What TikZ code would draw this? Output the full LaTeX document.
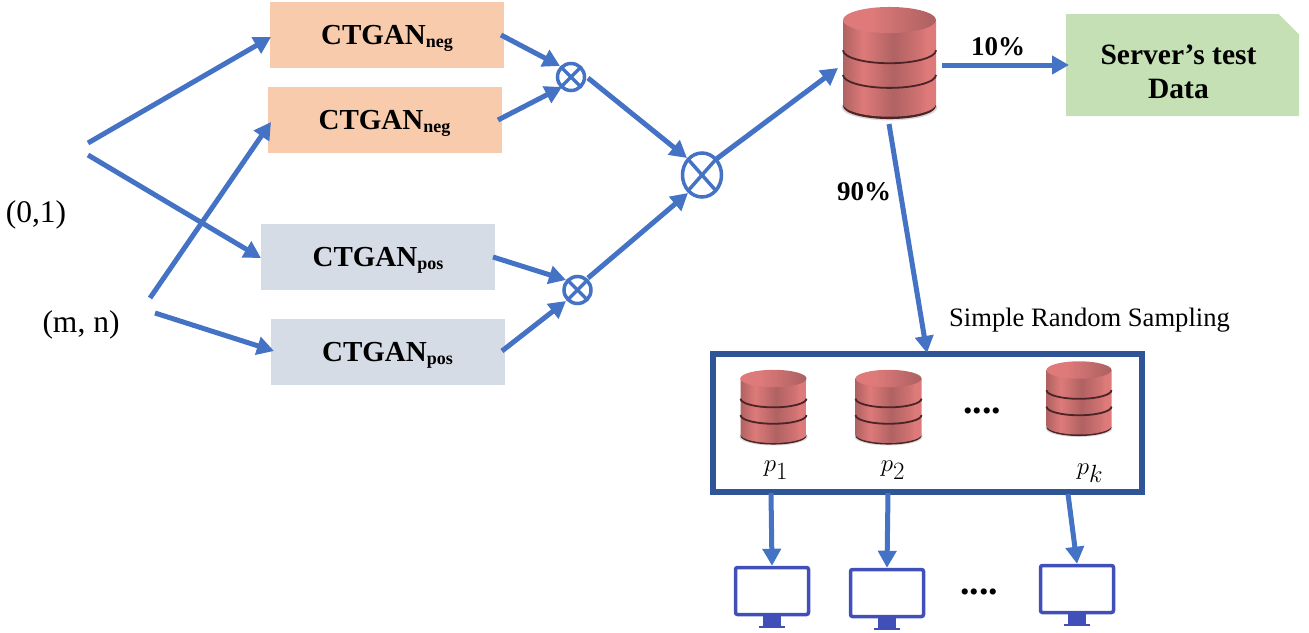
\documentclass[tikz,border=0pt]{standalone}
\usepackage{fontspec}
\setmainfont{Liberation Serif}
\usetikzlibrary{arrows.meta,shapes.geometric,shapes.misc}

\definecolor{flowblue}{HTML}{4472C4}
\definecolor{framblue}{HTML}{2F5597}
\definecolor{pcblue}{HTML}{4050B8}
\definecolor{negfill}{HTML}{F8CBAD}
\definecolor{posfill}{HTML}{D6DCE5}
\definecolor{testfill}{HTML}{C5E0B4}
\definecolor{dbhi}{HTML}{DE7A7A}
\definecolor{dbmid}{HTML}{D07272}
\definecolor{dblow}{HTML}{B06262}
\definecolor{dbdark}{HTML}{985656}
\definecolor{dbline}{HTML}{4A2426}

\pgfdeclarehorizontalshading{dbside}{100bp}{color(0bp)=(dblow); color(25bp)=(dblow);
  color(36bp)=(dbhi); color(52bp)=(dblow); color(66bp)=(dbmid); color(70bp)=(dbhi); color(75bp)=(dbhi); color(100bp)=(dbdark)}
\pgfdeclarehorizontalshading{dbtop}{100bp}{color(0bp)=(dbhi); color(40bp)=(dbhi); color(72bp)=(dblow); color(100bp)=(dbdark)}

\newcommand{\ctgan}[1]{CTGAN\raisebox{-.25ex}{\fontsize{18}{18}\selectfont #1}}

\tikzset{
  flow/.style={draw=flowblue,line width=5pt,-{Triangle[length=17pt,width=18pt]}},
  genbox/.style={minimum width=234pt,minimum height=66pt,inner sep=0pt,text height=27pt,text depth=9pt,
    font=\fontsize{29}{34}\selectfont\bfseries},
  mixer/.style={draw=flowblue,line width=3.5pt,inner sep=0pt,path picture={
    \draw[flowblue,line width=3.5pt] (path picture bounding box.north west)--(path picture bounding box.south east);
    \draw[flowblue,line width=3.5pt] (path picture bounding box.north east)--(path picture bounding box.south west);}},
  screen/.style={draw=pcblue,line width=3.5pt,rounded corners=2pt,minimum width=73pt,minimum height=47pt,inner sep=0pt},
  plain/.style={font=\fontsize{31.5}{36}\selectfont,inner sep=0pt},
  pct/.style={font=\fontsize{27}{32}\selectfont\bfseries,inner sep=0pt},
  dotrow/.style={font=\fontsize{38}{38}\selectfont\bfseries,inner sep=0pt,anchor=base},
  plab/.style={font=\fontsize{33}{38}\selectfont,inner sep=0pt},
  pics/dbcyl/.style={code={
    \fill[black!30,opacity=.5] (0,-1.88) ellipse [x radius=1.03,y radius=.28];
    \fill[dbline] (0,-1.85) ellipse [x radius=1,y radius=.28];
    \shade[shading=dbside] (-1,0)--(-1,-1.80) arc [start angle=180,end angle=360,x radius=1,y radius=.28]--(1,0)--cycle;
    \shade[shading=dbtop] (0,0) ellipse [x radius=1,y radius=.28];
    \draw[dbline,line width=1.8pt] (-1,-.65) arc [start angle=180,end angle=360,x radius=1,y radius=.28];
    \draw[dbline,line width=1.8pt] (-1,-1.18) arc [start angle=180,end angle=360,x radius=1,y radius=.28];
  }}
}

\begin{document}
\begin{tikzpicture}[x=1pt,y=1pt]
\useasboundingbox (0,0) rectangle (1309,-632);

% generators
\node[genbox,fill=negfill] (neg1) at (387,-35) {\ctgan{neg}};
\node[genbox,fill=negfill] (neg2) at (384.5,-120) {\ctgan{neg}};
\node[genbox,fill=posfill] (pos1) at (378,-257) {\ctgan{pos}};
\node[genbox,fill=posfill] (pos2) at (387.5,-352) {\ctgan{pos}};

% inputs
\node[plain] (range) at (36,-215) {(0,1)};
\node[plain] (size) at (81,-325) {(m, n)};

% mixers
\node[mixer,circle,minimum size=27pt] (mix1) at (571,-77) {};
\node[mixer,circle,minimum size=27pt] (mix2) at (577.5,-290) {};
\node[mixer,ellipse,minimum width=39pt,minimum height=44pt] (mix3) at (702,-175) {};

% data
\pic[scale=46.5] at (889.5,-20) {dbcyl};
\node[chamfered rectangle,chamfered rectangle corners=north east,chamfered rectangle xsep=17pt,chamfered rectangle ysep=17pt,
  fill=testfill,minimum width=233pt,minimum height=102pt,inner sep=0pt] (test) at (1182.5,-65) {\phantom{Server's test}};
\node[align=center,inner sep=0pt,font=\fontsize{29.5}{34}\selectfont\bfseries] (testname) at (1178.5,-72) {Server's test\\Data};
\node[pct] (ten) at (998,-47) {10\%};
\node[pct] (ninety) at (864,-192) {90\%};
\node[font=\fontsize{26.6}{30}\selectfont,inner sep=0pt] (srs) at (1089.5,-320.5) {Simple Random Sampling};

% participants
\node[draw=framblue,line width=6pt,minimum width=429pt,minimum height=138.5pt,inner sep=0pt] (parts) at (927,-422.75) {};
\pic[xscale=33,yscale=31] at (773.5,-378.5) {dbcyl};
\pic[xscale=33,yscale=31] at (888.5,-378.5) {dbcyl};
\pic[xscale=32.5,yscale=31] at (1079,-370) {dbcyl};
\node[plab] (p1) at (776,-470) {$p_1$};
\node[plab] (p2) at (893,-470) {$p_2$};
\node[plab] (pk) at (1090,-473) {$p_k$};
\node[dotrow] (dots1) at (982,-413) {....};

\node[screen] (pc1) at (772,-591) {};
\node[screen] (pc2) at (887,-593) {};
\node[screen] (pc3) at (1077,-589) {};
\node[dotrow] (dots2) at (979,-594) {....};

\foreach \n in {pc1,pc2,pc3}{
    \fill[pcblue] ([xshift=-9pt]\n.south) rectangle ([xshift=9pt,yshift=-9.5pt]\n.south);
    \fill[pcblue] ([xshift=-13pt,yshift=-9.5pt]\n.south) rectangle ([xshift=13pt,yshift=-12pt]\n.south);}

% free arrow ends
\coordinate (a1) at (88,-143); \coordinate (b1) at (271,-37);
\coordinate (a2) at (88,-155); \coordinate (b2) at (261,-258);
\coordinate (a3) at (150,-298); \coordinate (b3) at (271,-122);
\coordinate (a4) at (155,-313); \coordinate (b4) at (274,-351);
\coordinate (a5) at (501,-35); \coordinate (b5) at (560,-66);
\coordinate (a6) at (498,-120); \coordinate (b6) at (562,-87);
\coordinate (a7) at (493,-257); \coordinate (b7) at (566,-280);
\coordinate (a8) at (502,-351); \coordinate (b8) at (566,-301);
\coordinate (a9) at (588,-78); \coordinate (b9) at (687,-158);
\coordinate (a10) at (588,-278); \coordinate (b10) at (688,-193);
\coordinate (a11) at (715,-160); \coordinate (b11) at (838,-68);
\coordinate (a12) at (942,-65); \coordinate (b12) at (1069,-65);
\coordinate (a13) at (889,-124); \coordinate (b13) at (927,-353);
\coordinate (a14) at (771,-493); \coordinate (a15) at (888,-493); \coordinate (a16) at (1068,-494);

\foreach \s/\e in {a1/b1,a2/b2,a3/b3,a4/b4,a5/b5,a6/b6,a7/b7,a8/b8,a9/b9,a10/b10,a11/b11,a12/b12,a13/b13,a14/pc1.north,a15/pc2.north,a16/pc3.north}{
    \draw[flow] (\s)--(\e);}

\end{tikzpicture}
\end{document}
